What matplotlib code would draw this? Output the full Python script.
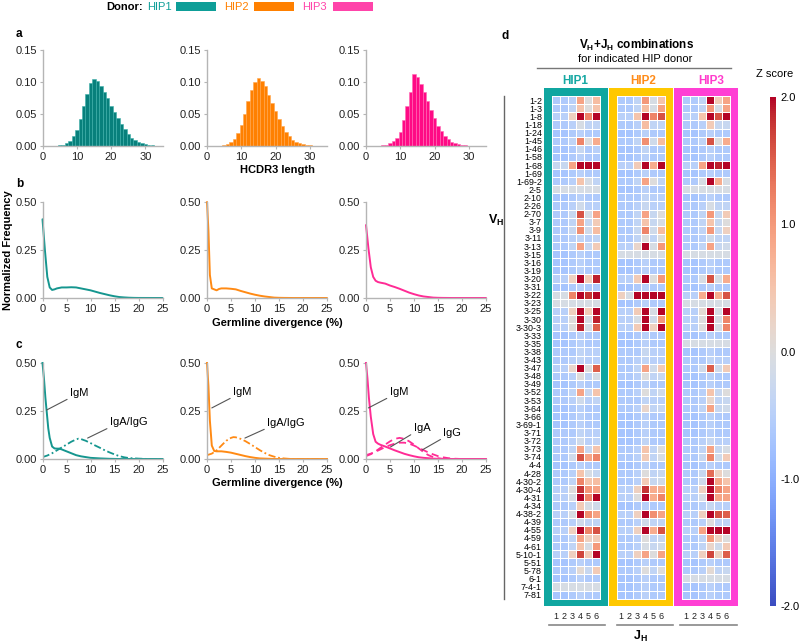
import numpy as np
import matplotlib
matplotlib.use('Agg')
import matplotlib.pyplot as plt
from matplotlib.patches import Rectangle
from matplotlib.lines import Line2D
from matplotlib.cm import ScalarMappable
from matplotlib.colors import Normalize

plt.rcParams['font.family'] = ['Liberation Sans', 'DejaVu Sans']
plt.rcParams['mathtext.fontset'] = 'custom'
plt.rcParams['mathtext.rm'] = 'Liberation Sans'
plt.rcParams['mathtext.bf'] = 'Liberation Sans:bold'
plt.rcParams['mathtext.it'] = 'Liberation Sans:italic'

# ---------------- data ----------------
donors = ['HIP1', 'HIP2', 'HIP3']

# panel a: HCDR3 length distribution
hcdr3_len = list(range(1, 36))
hist_hip1 = [0, 0, 0.0003, 0.0006, 0.0012, 0.002, 0.004, 0.008, 0.015, 0.025, 0.042, 0.062, 0.082, 0.099,
             0.105, 0.101, 0.093, 0.084, 0.075, 0.063, 0.053, 0.043, 0.034, 0.027, 0.019, 0.013, 0.009,
             0.006, 0.004, 0.0025, 0.0015, 0.001, 0.0006, 0.0004, 0.0002]
hist_hip2 = [0, 0, 0.0003, 0.0007, 0.0015, 0.003, 0.006, 0.011, 0.02, 0.033, 0.05, 0.07, 0.088, 0.1,
             0.106, 0.102, 0.093, 0.08, 0.067, 0.054, 0.042, 0.031, 0.022, 0.015, 0.01, 0.006, 0.004,
             0.0025, 0.0015, 0.001, 0.0006, 0.0004, 0.0002, 0.0001, 0]
hist_hip3 = [0, 0, 0.0003, 0.0006, 0.001, 0.002, 0.004, 0.008, 0.013, 0.022, 0.04, 0.062, 0.085, 0.112,
             0.108, 0.097, 0.085, 0.07, 0.056, 0.043, 0.032, 0.023, 0.016, 0.011, 0.007, 0.004, 0.0025,
             0.0015, 0.001, 0.0006, 0.0004, 0.0002, 0.0001, 0, 0]

# panel b: germline divergence (all)
b_x_hip1 = [0, 0.5, 1, 1.5, 2, 2.5, 3, 4, 5, 6, 7, 8, 9, 10, 11, 12, 13, 14, 15, 16, 17, 18, 19, 20, 25]
b_y_hip1 = [0.41, 0.25, 0.11, 0.055, 0.042, 0.045, 0.05, 0.055, 0.055, 0.056, 0.055, 0.05, 0.045, 0.04,
            0.033, 0.026, 0.02, 0.014, 0.009, 0.005, 0.003, 0.0015, 0.0007, 0.0003, 0]
b_x_hip2 = [0, 0.3, 0.6, 1, 1.5, 2, 2.5, 3, 4, 5, 6, 7, 8, 9, 10, 11, 12, 13, 14, 15, 16, 18, 25]
b_y_hip2 = [0.5, 0.35, 0.12, 0.05, 0.045, 0.04, 0.047, 0.05, 0.05, 0.048, 0.045, 0.037, 0.03, 0.023,
            0.017, 0.012, 0.008, 0.005, 0.002, 0.001, 0.0005, 0, 0]
b_x_hip3 = [0, 0.5, 1, 1.5, 2, 2.5, 3, 4, 5, 6, 7, 8, 9, 10, 11, 12, 13, 14, 15, 16, 18, 25]
b_y_hip3 = [0.38, 0.26, 0.16, 0.11, 0.09, 0.083, 0.08, 0.075, 0.065, 0.057, 0.048, 0.038, 0.028, 0.02,
            0.013, 0.008, 0.005, 0.002, 0.001, 0.0005, 0, 0]

# panel c: germline divergence by isotype
c_igm_x_hip1 = [0, 0.3, 0.6, 0.9, 1.2, 1.5, 2, 2.5, 3, 3.5, 4, 5, 6, 7, 8, 9, 10, 12, 14, 16, 25]
c_igm_y_hip1 = [0.5, 0.42, 0.32, 0.24, 0.16, 0.11, 0.065, 0.055, 0.054, 0.054, 0.05, 0.04, 0.03, 0.02,
                0.014, 0.01, 0.006, 0.003, 0.001, 0, 0]
c_iga_x_hip1 = [0, 1, 2, 3, 4, 5, 6, 7, 7.5, 8, 9, 10, 11, 12, 13, 14, 15, 16, 17, 18, 20, 22, 25]
c_iga_y_hip1 = [0.01, 0.018, 0.03, 0.045, 0.06, 0.075, 0.09, 0.102, 0.106, 0.104, 0.095, 0.083, 0.07,
                0.058, 0.045, 0.034, 0.024, 0.015, 0.009, 0.005, 0.002, 0, 0]
c_igm_x_hip2 = [0, 0.3, 0.6, 1, 1.5, 2, 3, 4, 5, 6, 7, 8, 9, 10, 11, 12, 14, 25]
c_igm_y_hip2 = [0.5, 0.38, 0.2, 0.07, 0.042, 0.04, 0.04, 0.037, 0.033, 0.027, 0.021, 0.015, 0.01, 0.006,
                0.003, 0.002, 0, 0]
c_iga_x_hip2 = [0, 1, 2, 3, 4, 5, 5.5, 6, 7, 8, 9, 10, 11, 12, 13, 14, 15, 16, 17, 18, 25]
c_iga_y_hip2 = [0.02, 0.028, 0.045, 0.07, 0.095, 0.11, 0.114, 0.113, 0.105, 0.093, 0.078, 0.062, 0.046,
                0.032, 0.02, 0.012, 0.006, 0.003, 0.001, 0, 0]
c_igm_x_hip3 = [0, 0.3, 0.6, 1, 1.5, 2, 2.5, 3, 4, 5, 6, 7, 8, 9, 10, 11, 12, 14, 16, 25]
c_igm_y_hip3 = [0.5, 0.42, 0.32, 0.22, 0.13, 0.09, 0.08, 0.074, 0.065, 0.055, 0.045, 0.036, 0.027, 0.02,
                0.014, 0.009, 0.006, 0.002, 0, 0]
c_iga_x_hip3 = [0, 1, 2, 3, 4, 5, 6, 7, 8, 9, 10, 11, 12, 13, 14, 15, 16, 17, 25]
c_iga_y_hip3 = [0.015, 0.025, 0.04, 0.058, 0.075, 0.092, 0.105, 0.11, 0.105, 0.092, 0.075, 0.055, 0.036,
                0.02, 0.01, 0.004, 0.001, 0, 0]
c_igg_x_hip3 = [0, 1, 2, 3, 4, 5, 6, 7, 8, 9, 10, 11, 12, 13, 14, 15, 16, 17, 18, 19, 20, 25]
c_igg_y_hip3 = [0.02, 0.028, 0.038, 0.05, 0.062, 0.072, 0.08, 0.085, 0.085, 0.08, 0.07, 0.058, 0.046,
                0.034, 0.024, 0.015, 0.009, 0.005, 0.002, 0.001, 0, 0]

# panel d: VH + JH Z scores
vh_genes = ['1-2', '1-3', '1-8', '1-18', '1-24', '1-45', '1-46', '1-58', '1-68', '1-69', '1-69-2', '2-5',
            '2-10', '2-26', '2-70', '3-7', '3-9', '3-11', '3-13', '3-15', '3-16', '3-19', '3-20', '3-31',
            '3-22', '3-23', '3-25', '3-30', '3-30-3', '3-33', '3-35', '3-38', '3-43', '3-47', '3-48',
            '3-49', '3-52', '3-53', '3-64', '3-66', '3-69-1', '3-71', '3-72', '3-73', '3-74', '4-4',
            '4-28', '4-30-2', '4-30-4', '4-31', '4-34', '4-38-2', '4-39', '4-55', '4-59', '4-61',
            '5-10-1', '5-51', '5-78', '6-1', '7-4-1', '7-81']
jh_genes = ['1', '2', '3', '4', '5', '6']

z_hip1 = [
    [-.6, -.6, -.5, .9, 0, .6], [-.6, -.6, -.4, .5, 0, .5], [-.5, -.5, .3, 2.2, 1.2, 2.2],
    [-.6, -.6, -.5, -.1, -.4, -.4], [-.7, -.7, -.6, -.5, -.6, -.6], [-.6, -.6, -.4, 1.2, 0, .8],
    [-.7, -.7, -.6, -.3, -.6, -.5], [-.7, -.7, -.6, -.5, -.6, -.6], [-.3, -.3, .9, 2.2, 2.2, 2.2],
    [-.7, -.7, -.6, -.5, -.6, -.6], [-.6, -.6, -.5, .5, -.1, -.4], [-.1, -.1, -.1, -.1, -.1, -.1],
    [-.7, -.7, -.6, -.5, -.6, -.6], [-.6, -.6, -.5, -.2, -.5, -.5], [-.6, -.6, -.3, 1.6, -.1, .9],
    [-.6, -.6, -.4, .9, -.3, .4], [-.6, -.6, -.3, 1.1, -.2, .6], [-.6, -.6, -.5, -.4, -.5, -.4],
    [-.6, -.6, -.4, .9, -.3, .4], [-.7, -.7, -.6, -.5, -.6, -.6], [-.7, -.7, -.6, -.5, -.6, -.6],
    [-.7, -.7, -.6, -.5, -.6, -.6], [-.5, -.5, .3, 2.2, .4, 1.9], [-.7, -.7, -.6, -.5, -.6, -.6],
    [-.1, -.1, 1.2, 2.2, 1.8, 2.2], [-.1, -.1, -.1, -.1, -.1, -.1], [-.5, -.5, .3, 2.2, .4, 2.2],
    [-.5, -.5, 0, 2.2, -.1, 1.9], [-.5, -.5, 0, 1.9, -.1, 1.5], [-.7, -.7, -.6, -.5, -.6, -.6],
    [-.7, -.7, -.6, -.5, -.6, -.6], [-.6, -.6, -.6, -.4, -.5, -.5], [-.6, -.6, -.5, -.4, -.5, -.5],
    [-.5, -.5, .2, 2.1, 0, 1.5], [-.6, -.6, -.5, 0, -.4, -.1], [-.7, -.7, -.6, -.5, -.6, -.6],
    [-.6, -.6, -.4, .9, -.3, .5], [-.6, -.6, -.5, -.2, -.5, -.4], [-.7, -.7, -.6, -.5, -.6, -.6],
    [-.7, -.7, -.6, -.5, -.6, -.6], [-.7, -.7, -.6, -.5, -.6, -.6], [-.6, -.6, -.6, -.4, -.5, -.5],
    [-.6, -.6, -.5, -.2, -.5, -.4], [-.6, -.6, -.4, .9, -.3, .5], [-.6, -.6, -.2, 1.6, .9, 1.2],
    [-.7, -.7, -.6, -.5, -.6, -.6], [-.6, -.6, -.5, .5, -.1, -.3], [-.6, -.6, -.4, 1.2, .5, .6],
    [-.5, -.5, 0, 1.8, 1.0, .9], [-.5, -.5, -.1, 2.2, 1.2, 2.1], [-.6, -.6, -.5, .4, -.1, -.2],
    [-.5, -.5, -.1, 2.2, 1.1, .9], [-.6, -.6, -.5, -.2, -.4, -.4], [-.5, -.5, .3, 2.2, 1.2, 1.6],
    [-.6, -.6, -.4, .9, .3, .4], [-.6, -.6, -.4, .5, -.1, 1.0], [-.5, -.5, .3, 1.7, .4, 2.2],
    [-.7, -.7, -.6, -.5, -.6, -.6], [-.6, -.6, -.5, .1, -.3, .4], [-.7, -.7, -.6, -.5, -.6, -.6],
    [-.1, -.1, -.1, -.1, -.1, -.1], [-.7, -.7, -.6, -.5, -.6, -.6]]

z_hip2 = [
    [-.6, -.6, -.4, 1.0, -.1, .5], [-.6, -.6, -.4, .6, -.1, .9], [-.5, -.5, .5, 2.2, 1.2, 1.6],
    [-.6, -.6, -.5, .6, -.4, -.4], [-.7, -.7, -.6, -.5, -.6, -.6], [-.6, -.6, -.4, 1.1, -.2, .6],
    [-.7, -.7, -.6, -.4, -.6, -.6], [-.7, -.7, -.6, -.5, -.6, -.6], [-.5, -.5, .4, 2.2, .8, 2.2],
    [-.7, -.7, -.6, -.5, -.6, -.6], [-.6, -.6, -.4, .9, 0, -.4], [-.7, -.7, -.6, -.5, -.6, -.6],
    [-.6, -.6, -.6, -.4, -.5, -.5], [-.6, -.6, -.5, -.3, -.5, -.5], [-.6, -.6, -.4, .9, -.3, 0],
    [-.6, -.6, -.4, .5, -.3, -.1], [-.6, -.6, -.3, 1.2, -.2, .6], [-.6, -.6, -.4, 0, -.4, 0],
    [-.5, -.5, .2, 2.2, -.1, 1.0], [-.1, -.1, -.1, -.1, -.1, -.1], [-.7, -.7, -.6, -.5, -.6, -.6],
    [-.7, -.7, -.6, -.5, -.6, -.6], [-.5, -.5, .4, 2.2, 0, 1.0], [-.7, -.7, -.6, -.5, -.6, -.6],
    [.3, -.1, 2.2, 2.2, 2.2, 2.2], [-.7, -.7, -.6, -.5, -.6, -.6], [-.5, -.5, .4, 2.2, -.1, 2.2],
    [-.5, -.5, -.1, 2.2, -.2, 1.0], [-.5, -.5, .4, 2.2, .3, 2.2], [-.7, -.7, -.6, -.5, -.6, -.6],
    [-.7, -.7, -.6, -.5, -.6, -.6], [-.6, -.6, -.6, -.3, -.5, -.5], [-.6, -.6, -.5, -.4, -.5, -.5],
    [-.6, -.6, -.4, .9, -.2, .4], [-.6, -.6, -.5, 0, -.4, -.3], [-.7, -.7, -.6, -.5, -.6, -.6],
    [-.6, -.6, -.5, 0, -.4, -.2], [-.6, -.6, -.6, -.4, -.5, -.5], [-.6, -.6, -.5, .2, -.4, -.3],
    [-.7, -.7, -.6, -.5, -.6, -.6], [-.7, -.7, -.6, -.5, -.6, -.6], [-.7, -.7, -.6, -.5, -.6, -.6],
    [-.7, -.7, -.6, -.4, -.6, -.6], [-.6, -.6, -.5, .5, -.4, 0], [-.6, -.6, -.5, .4, -.4, -.1],
    [-.7, -.7, -.6, -.5, -.6, -.6], [-.6, -.6, -.5, 0, -.4, -.3], [-.6, -.6, -.5, .4, -.3, -.2],
    [-.5, -.5, .3, 1.8, .8, .8], [-.5, -.5, 0, 2.2, .8, 1.2], [-.7, -.7, -.6, -.5, -.6, -.6],
    [-.5, -.5, .3, 2.2, 1.1, .9], [-.6, -.6, -.5, -.2, -.4, -.4], [-.5, -.5, .3, 2.2, .8, 1.6],
    [-.6, -.6, -.5, 0, -.4, -.3], [-.6, -.6, -.5, -.1, -.3, -.2], [-.5, -.5, .3, .9, 0, .9],
    [-.7, -.7, -.6, -.5, -.6, -.6], [-.6, -.6, -.5, 0, -.4, 0], [-.7, -.7, -.6, -.5, -.6, -.6],
    [-.7, -.7, -.6, -.5, -.6, -.6], [-.7, -.7, -.6, -.5, -.6, -.6]]

z_hip3 = [
    [-.6, -.6, -.4, 2.2, .4, .9], [-.6, -.6, -.4, 1.0, -.1, .9], [-.5, -.5, .5, 2.2, 1.6, 2.2],
    [-.6, -.6, -.5, .4, -.3, -.3], [-.7, -.7, -.6, -.5, -.6, -.6], [-.6, -.6, -.4, 1.6, 0, .8],
    [-.7, -.7, -.6, -.5, -.6, -.6], [-.7, -.7, -.6, -.5, -.6, -.6], [-.5, -.5, .9, 2.2, 1.9, 2.2],
    [-.7, -.7, -.6, -.5, -.6, -.6], [-.6, -.6, -.1, 2.2, .8, -.1], [-.1, -.1, -.1, -.1, -.1, -.1],
    [-.7, -.7, -.6, -.5, -.6, -.6], [-.6, -.6, -.5, -.1, -.4, -.4], [-.6, -.6, -.4, 1.0, -.3, .4],
    [-.6, -.6, -.4, .5, -.3, 0], [-.6, -.6, -.4, 1.0, -.3, .3], [-.6, -.6, -.5, -.2, -.4, -.4],
    [-.6, -.6, -.4, .9, -.3, -.2], [-.1, -.1, -.1, -.1, -.1, -.1], [-.7, -.7, -.6, -.5, -.6, -.6],
    [-.7, -.7, -.6, -.5, -.6, -.6], [-.6, -.6, -.1, 1.6, -.1, .8], [-.7, -.7, -.6, -.5, -.6, -.6],
    [-.5, -.5, .8, 2.2, .8, 1.6], [-.1, -.1, -.1, -.1, -.1, -.1], [-.5, -.5, .1, 2.2, -.1, 2.2],
    [-.5, -.5, 0, 2.2, -.1, 1.2], [-.5, -.5, 0, 2.2, -.1, 1.2], [-.7, -.7, -.6, -.5, -.6, -.6],
    [-.1, -.1, -.1, -.1, -.1, -.1], [-.7, -.7, -.6, -.5, -.6, -.6], [-.6, -.6, -.6, -.4, -.5, -.5],
    [-.6, -.6, -.2, 1.5, -.2, .4], [-.7, -.7, -.6, -.5, -.6, -.6], [-.7, -.7, -.6, -.5, -.6, -.6],
    [-.6, -.6, -.5, .5, -.3, 0], [-.6, -.6, -.5, .2, -.4, -.3], [-.6, -.6, -.4, .9, -.3, -.2],
    [-.7, -.7, -.6, -.5, -.6, -.6], [-.7, -.7, -.6, -.5, -.6, -.6], [-.7, -.7, -.6, -.5, -.6, -.6],
    [-.6, -.6, -.5, -.3, -.5, -.5], [-.6, -.6, -.4, .9, -.3, -.1], [-.6, -.6, -.3, 1.2, -.2, .4],
    [-.7, -.7, -.6, -.5, -.6, -.6], [-.6, -.6, -.3, 1.4, .3, 0], [-.6, -.6, -.2, 2.2, .9, .5],
    [-.5, -.5, .3, 2.2, 1.2, .9], [-.5, -.5, -.1, 2.2, .9, .9], [-.6, -.6, -.5, -.3, -.5, -.5],
    [-.5, -.5, .3, 2.2, 1.6, 1.5], [-.6, -.6, -.5, 0, -.4, -.4], [-.5, -.5, .9, 2.2, 2.2, 2.2],
    [-.6, -.6, -.4, 1.0, .3, 0], [-.6, -.6, -.4, .2, -.2, .4], [-.5, -.5, .3, 1.7, .3, 1.5],
    [-.7, -.7, -.6, -.5, -.6, -.6], [-.6, -.6, -.5, .1, -.4, -.3], [-.1, -.1, -.1, -.1, -.1, -.1],
    [-.7, -.7, -.6, -.5, -.6, -.6], [-.7, -.7, -.6, -.5, -.6, -.6]]

z_ticks = [-2.0, -1.0, 0.0, 1.0, 2.0]

# ---------------- style ----------------
legend_colors = ['#0e9e98', '#ff8000', '#ff44aa']
hist_fill = ['#08807c', '#ff8000', '#ff0a85']
hist_edge = ['#3db0aa', '#ffa64d', '#ff6ab5']
line_colors = ['#15968f', '#ff8a14', '#ff2b95']
box_colors = ['#10a6a0', '#ffc800', '#ff3fd4']
title_colors = ['#16a8a3', '#ff8c1a', '#ff3dcc']
spine_col = '#b5b5b5'

W, H = 800, 644
fig = plt.figure(figsize=(W / 100, H / 100), dpi=100)


def fx(x):
    return x / W


def fy(y):
    return 1 - y / H


def add_ax(l, t, r, b):
    return fig.add_axes([fx(l), fy(b), (r - l) / W, (b - t) / H])


def style(ax):
    for s in ['top', 'right']:
        ax.spines[s].set_visible(False)
    for s in ['left', 'bottom']:
        ax.spines[s].set_color(spine_col)
        ax.spines[s].set_linewidth(1.0)
    ax.tick_params(colors=spine_col, labelcolor='#222222', length=2.5, width=0.8,
                   labelsize=8, pad=1.5)
    ax.set_facecolor('none')


# legend
fig.text(fx(106), fy(7), 'Donor:', fontsize=8, fontweight='bold', ha='left', va='center')
leg_text_x = [147, 224, 302]
leg_rect_x = [176, 254, 333]
for i, d in enumerate(donors):
    fig.text(fx(leg_text_x[i]), fy(7), d, fontsize=8, color=legend_colors[i], ha='left', va='center')
    fig.patches.append(Rectangle((fx(leg_rect_x[i]), fy(11)), 40 / W, 9 / H,
                                 transform=fig.transFigure, facecolor=legend_colors[i],
                                 edgecolor='none'))

lefts = [42.5, 207, 366]
hists = [hist_hip1, hist_hip2, hist_hip3]
b_data = [(b_x_hip1, b_y_hip1), (b_x_hip2, b_y_hip2), (b_x_hip3, b_y_hip3)]

# panel a
for i in range(3):
    ax = add_ax(lefts[i], 50, lefts[i] + 120, 146)
    style(ax)
    ax.bar(hcdr3_len, hists[i], width=1.0, color=hist_fill[i], edgecolor=hist_edge[i], linewidth=0.4)
    ax.set_xlim(0, 35)
    ax.set_ylim(0, 0.15)
    ax.set_xticks([0, 10, 20, 30])
    ax.set_yticks([0, 0.05, 0.10, 0.15])
    ax.set_yticklabels(['0.00', '0.05', '0.10', '0.15'])

# panel b
for i in range(3):
    ax = add_ax(lefts[i], 202, lefts[i] + 120, 298)
    style(ax)
    ax.plot(b_data[i][0], b_data[i][1], color=line_colors[i], lw=1.4, clip_on=False,
            solid_capstyle='round')
    ax.set_xlim(0, 25)
    ax.set_ylim(0, 0.5)
    ax.set_xticks([0, 5, 10, 15, 20, 25])
    ax.set_yticks([0, 0.25, 0.5])
    ax.set_yticklabels(['0.00', '0.25', '0.50'])

# panel c
c_igm = [(c_igm_x_hip1, c_igm_y_hip1), (c_igm_x_hip2, c_igm_y_hip2), (c_igm_x_hip3, c_igm_y_hip3)]
c_iga = [(c_iga_x_hip1, c_iga_y_hip1), (c_iga_x_hip2, c_iga_y_hip2), (c_iga_x_hip3, c_iga_y_hip3)]
ann_col = '#555555'
for i in range(3):
    ax = add_ax(lefts[i], 363, lefts[i] + 120, 459)
    style(ax)
    ax.plot(c_igm[i][0], c_igm[i][1], color=line_colors[i], lw=1.4, clip_on=False)
    ls = (0, (4, 1.5, 1, 1.5)) if i < 2 else (0, (4, 2.5))
    ax.plot(c_iga[i][0], c_iga[i][1], color=line_colors[i], lw=1.3, ls=ls)
    if i == 2:
        ax.plot(c_igg_x_hip3, c_igg_y_hip3, color=line_colors[i], lw=1.3, ls=(0, (4, 2.5)))
    ax.set_xlim(0, 25)
    ax.set_ylim(0, 0.5)
    ax.set_xticks([0, 5, 10, 15, 20, 25])
    ax.set_yticks([0, 0.25, 0.5])
    ax.set_yticklabels(['0.00', '0.25', '0.50'])
    ap = dict(arrowstyle='-', color=ann_col, lw=0.8, relpos=(0, 0), shrinkA=0, shrinkB=0)
    if i == 0:
        ax.annotate('IgM', xy=(0.85, 0.255), xytext=(5.7, 0.318), fontsize=8, ha='left', va='bottom',
                    arrowprops=ap)
        ax.annotate('IgA/IgG', xy=(9.4, 0.109), xytext=(14.0, 0.165), fontsize=8, ha='left',
                    va='bottom', arrowprops=ap)
    elif i == 1:
        ax.annotate('IgM', xy=(1.0, 0.266), xytext=(5.4, 0.323), fontsize=8, ha='left', va='bottom',
                    arrowprops=ap)
        ax.annotate('IgA/IgG', xy=(7.9, 0.109), xytext=(12.5, 0.161), fontsize=8, ha='left',
                    va='bottom', arrowprops=ap)
    else:
        ax.annotate('IgM', xy=(0.5, 0.266), xytext=(4.9, 0.323), fontsize=8, ha='left', va='bottom',
                    arrowprops=ap)
        ax.annotate('IgA', xy=(5.1, 0.0625), xytext=(9.9, 0.135), fontsize=8, ha='left',
                    va='bottom', arrowprops=ap)
        ax.annotate('IgG', xy=(11.7, 0.047), xytext=(16.1, 0.11), fontsize=8, ha='left',
                    va='bottom', arrowprops=ap)

# left labels
fig.text(fx(16), fy(34), 'a', fontsize=8.5, fontweight='bold', ha='left', va='center')
fig.text(fx(16), fy(184), 'b', fontsize=8.5, fontweight='bold', ha='left', va='center')
fig.text(fx(16), fy(345), 'c', fontsize=8.5, fontweight='bold', ha='left', va='center')
fig.text(fx(277), fy(170), 'HCDR3 length', fontsize=8, fontweight='bold', ha='center', va='center')
fig.text(fx(277), fy(323), 'Germline divergence (%)', fontsize=8, fontweight='bold', ha='center',
         va='center')
fig.text(fx(277), fy(483), 'Germline divergence (%)', fontsize=8, fontweight='bold', ha='center',
         va='center')
fig.text(fx(8), fy(250), 'Normalized Frequency', fontsize=8, fontweight='bold', rotation=90,
         ha='center', va='center')

# panel d heatmap
cmap = plt.get_cmap('coolwarm')
norm = Normalize(vmin=-2, vmax=2)
zs = [z_hip1, z_hip2, z_hip3]
box_left = [544, 609, 674]
for i in range(3):
    ax = add_ax(box_left[i], 88, box_left[i] + 64, 606)
    ax.set_xlim(-1, 7)
    ax.set_ylim(62.9, -1.0)
    ax.set_facecolor(box_colors[i])
    for s in ax.spines.values():
        s.set_visible(False)
    ax.add_patch(Rectangle((0, 0), 6, 62, facecolor='white', edgecolor='none'))
    ax.pcolormesh(np.arange(7), np.arange(63), np.array(zs[i]), cmap=cmap, norm=norm,
                  edgecolors='white', linewidth=0.7)
    ax.set_xticks(np.arange(6) + 0.5)
    ax.set_xticklabels(jh_genes)
    ax.tick_params(axis='x', length=0, pad=4, labelsize=6.5, labelcolor='#222222')
    if i == 0:
        ax.set_yticks(np.arange(62) + 0.5)
        ax.set_yticklabels(vh_genes)
        ax.tick_params(axis='y', length=0, pad=1.5, labelsize=6.4, labelcolor='#000000')
    else:
        ax.set_yticks([])
    fig.text(fx([575, 643, 711][i]), fy(81), donors[i], fontsize=8.5, fontweight='bold',
             color=title_colors[i], ha='center', va='center')

# underline of JH groups
for (x0, x1) in [(549, 605), (617, 673), (680, 737)]:
    fig.lines.append(Line2D([fx(x0), fx(x1)], [fy(625), fy(625)], transform=fig.transFigure,
                            color='#888888', lw=1.2))
# VH bracket line
fig.lines.append(Line2D([fx(504), fx(504)], [fy(96), fy(599)], transform=fig.transFigure,
                        color='#666666', lw=1.0))
# title line
fig.lines.append(Line2D([fx(537), fx(731)], [fy(68), fy(68)], transform=fig.transFigure,
                        color='#777777', lw=1.0))

fig.text(fx(502), fy(36), 'd', fontsize=8.5, fontweight='bold', ha='left', va='center')
fig.text(fx(637), fy(45), r'$\mathbf{V}_{\mathbf{H}}\mathbf{+J}_{\mathbf{H}}$ combinations',
         fontsize=8.5, fontweight='bold', ha='center', va='center')
fig.text(fx(635), fy(59), 'for indicated HIP donor', fontsize=8, ha='center', va='center')
fig.text(fx(496), fy(220), r'$\mathbf{V}_{\mathbf{H}}$', fontsize=9, ha='center', va='center')
fig.text(fx(640), fy(636), r'$\mathbf{J}_{\mathbf{H}}$', fontsize=9, ha='center', va='center')

# colorbar
cax = add_ax(770, 97, 776, 606)
cb = fig.colorbar(ScalarMappable(norm=norm, cmap=cmap), cax=cax)
cb.outline.set_visible(False)
cb.set_ticks(z_ticks)
cb.set_ticklabels(['%.1f' % t for t in z_ticks])
cax.tick_params(length=0, pad=3, labelsize=8)
fig.text(fx(775), fy(74), 'Z score', fontsize=8, ha='center', va='center')

fig.savefig('out.png', dpi=100)
